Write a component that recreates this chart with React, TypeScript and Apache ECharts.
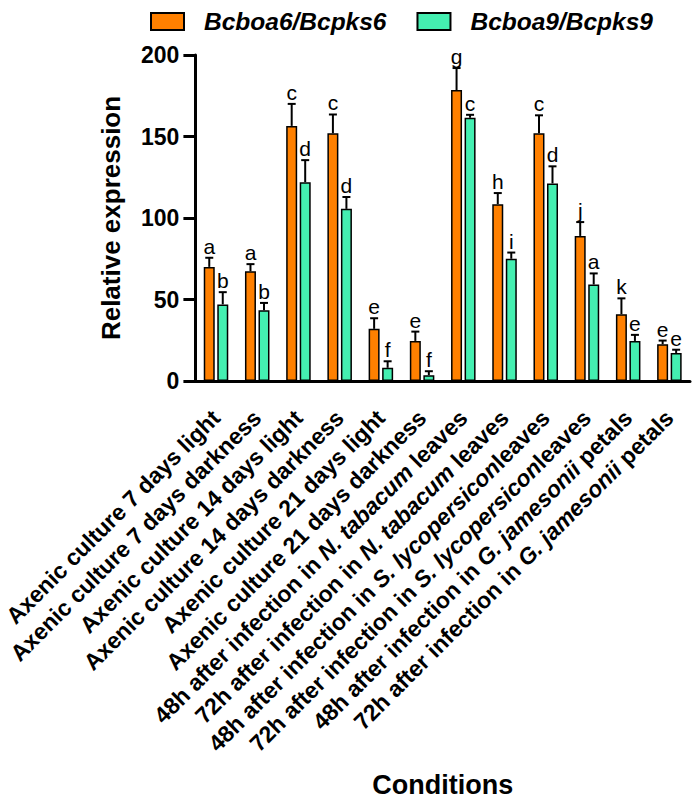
import React, { useEffect, useRef } from "react";
import * as echarts from "echarts";

const categories = [
  "Axenic culture 7 days light",
  "Axenic culture 7 days darkness",
  "Axenic culture 14 days light",
  "Axenic culture 14 days darkness",
  "Axenic culture 21 days light",
  "Axenic culture 21 days darkness",
  "48h after infection in N. tabacum leaves",
  "72h after infection in N. tabacum leaves",
  "48h after infection in S. lycopersiconleaves",
  "72h after infection in S. lycopersiconleaves",
  "48h after infection in G. jamesonii petals",
  "72h after infection in G. jamesonii petals",
];
const italicTerms = ["N. tabacum", "S. lycopersicon", "G. jamesonii"];

const seriesNames = ["Bcboa6/Bcpks6", "Bcboa9/Bcpks9"];
const boa6Values = [70, 67.3, 156.5, 152, 32, 24.6, 178.5, 108.5, 152, 89, 41, 22.6];
const boa6Errors = [5.6, 4.4, 13.5, 11.5, 6.5, 5.7, 13.5, 6.8, 11, 8.5, 9.7, 2.2];
const boa6Letters = ["a", "a", "c", "c", "e", "e", "g", "h", "c", "j", "k", "e"];
const boa9Values = [47, 43.4, 122, 105.6, 8.1, 3.6, 161.5, 75, 121.2, 59.2, 24.6, 17.2];
const boa9Errors = [7.5, 4.5, 13.5, 7.3, 4, 2.4, 1.8, 3.8, 10.5, 6.8, 3.7, 2];
const boa9Letters = ["b", "b", "d", "d", "f", "f", "c", "i", "d", "a", "e", "e"];

const yTicks = { min: 0, max: 200, interval: 50 };

const FONT = "'Liberation Sans', Arial, sans-serif";
const ORANGE = "#FF8000";
const GREEN = "#44EFB1";
const BAR_W = 11;
const BAR_OFFSET = 6.75;

function errorSeries(values: number[], errors: number[], letters: string[], offset: number) {
  return {
    type: "custom",
    z: 5,
    silent: true,
    data: values.map((v, i) => [i, v]),
    encode: { x: 0, y: 1 },
    renderItem: (params: any, api: any) => {
      const i = params.dataIndex;
      const v = values[i];
      const e = errors[i];
      const base = api.coord([i, v]);
      const top = api.coord([i, v + e]);
      const x = base[0] + offset;
      return {
        type: "group",
        children: [
          {
            type: "line",
            shape: { x1: x, y1: base[1], x2: x, y2: top[1] },
            style: { stroke: "#000", lineWidth: 2 },
          },
          {
            type: "line",
            shape: { x1: x - 4, y1: top[1], x2: x + 4, y2: top[1] },
            style: { stroke: "#000", lineWidth: 2 },
          },
          {
            type: "text",
            x: x,
            y: top[1] - 1,
            style: {
              text: letters[i],
              fill: "#000",
              fontSize: 21,
              fontFamily: FONT,
              align: "center",
              verticalAlign: "bottom",
            },
          },
        ],
      };
    },
  };
}

function formatLabel(v: string) {
  let s = v;
  for (const t of italicTerms) {
    s = s.replace(t, "{i|" + t + "}");
  }
  return s;
}

export default function App() {
  const ref = useRef<HTMLDivElement>(null);
  useEffect(() => {
    if (!ref.current) return;
    const chart = echarts.init(ref.current, null, { renderer: "svg" });
    chart.setOption({
      animation: false,
      backgroundColor: "#fff",
      legend: {
        left: 145,
        top: 4,
        itemWidth: 33,
        itemHeight: 17,
        itemGap: 30,
        icon: "rect",
        data: seriesNames,
        textStyle: {
          fontFamily: FONT,
          fontWeight: "bold",
          fontStyle: "italic",
          fontSize: 24.5,
          color: "#000",
          padding: [0, 0, 0, 15],
        },
      },
      grid: { left: 188, top: 55, right: 5, bottom: 414, containLabel: false },
      xAxis: {
        type: "category",
        data: categories,
        boundaryGap: true,
        name: "Conditions",
        nameLocation: "middle",
        nameGap: 390,
        nameTextStyle: { fontFamily: FONT, fontWeight: "bold", fontSize: 27, color: "#000" },
        axisLine: { lineStyle: { color: "#000", width: 3 } },
        axisTick: { alignWithLabel: true, length: 12, lineStyle: { color: "#000", width: 3 } },
        axisLabel: {
          rotate: 45,
          interval: 0,
          margin: 33,
          fontFamily: FONT,
          fontWeight: "bold",
          fontSize: 23,
          color: "#000",
          formatter: formatLabel,
          rich: {
            i: { fontFamily: FONT, fontWeight: "bold", fontStyle: "italic", fontSize: 23, color: "#000" },
          },
        },
      },
      yAxis: {
        type: "value",
        min: yTicks.min,
        max: yTicks.max,
        interval: yTicks.interval,
        name: "Relative expression",
        nameLocation: "middle",
        nameGap: 71,
        nameTextStyle: { fontFamily: FONT, fontWeight: "bold", fontSize: 26, color: "#000" },
        splitLine: { show: false },
        axisLine: { show: true, lineStyle: { color: "#000", width: 3 } },
        axisTick: { show: true, length: 12, lineStyle: { color: "#000", width: 3 } },
        axisLabel: {
          margin: 16,
          fontFamily: FONT,
          fontWeight: "bold",
          fontSize: 23,
          color: "#000",
        },
      },
      series: [
        {
          name: seriesNames[0],
          type: "bar",
          data: boa6Values,
          barWidth: BAR_W,
          barGap: "23%",
          itemStyle: { color: ORANGE, borderColor: "#000", borderWidth: 1.5 },
        },
        {
          name: seriesNames[1],
          type: "bar",
          data: boa9Values,
          barWidth: BAR_W,
          barGap: "23%",
          itemStyle: { color: GREEN, borderColor: "#000", borderWidth: 1.5 },
        },
        errorSeries(boa6Values, boa6Errors, boa6Letters, -BAR_OFFSET),
        errorSeries(boa9Values, boa9Errors, boa9Letters, BAR_OFFSET),
      ],
    });
    return () => chart.dispose();
  }, []);
  return (
    <div
      ref={ref}
      style={{ position: "fixed", left: 0, top: 0, width: 695, height: 799 }}
    />
  );
}
